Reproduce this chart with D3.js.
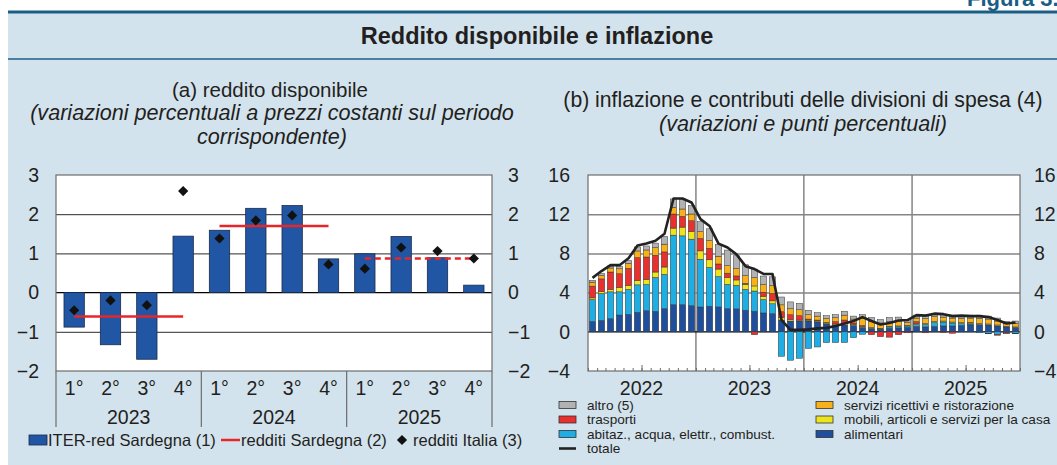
<!DOCTYPE html>
<html>
<head>
<meta charset="utf-8">
<script src="https://cdn.jsdelivr.net/npm/d3@7"></script>
<style>
  body { margin: 0; background: #fff; }
  svg { display: block; font-family: "Liberation Sans", Arial, Helvetica, sans-serif; }
</style>
</head>
<body>
<div id="chart"></div>
<script>
// ---- data: pannello (a) ----
var trimestri = ["1°", "2°", "3°", "4°"];
var anniA = ["2023", "2024", "2025"];
var iterRed = [-0.88, -1.33, -1.70, 1.44, 1.59, 2.15, 2.22, 0.86, 0.99, 1.43, 0.89, 0.19];
var redditiItalia = [-0.45, -0.20, -0.32, 2.59, 1.38, 1.84, 1.97, 0.72, 0.61, 1.15, 1.06, 0.87];
var redditiSardegna = [-0.61, 1.70, 0.87];
var sardegnaStima = [false, false, true];
var ticksA = [-2, -1, 0, 1, 2, 3];

// ---- data: pannello (b) ----
var anniB = ["2022", "2023", "2024", "2025"];
var mesi = d3.timeMonth.range(new Date(2022, 0, 1), new Date(2026, 0, 1));
var alimentari = [1.06, 1.16, 1.34, 1.71, 1.78, 1.99, 2.16, 2.09, 2.36, 2.77, 2.77, 2.67,
                  2.53, 2.61, 2.54, 2.37, 2.34, 2.20, 2.10, 1.92, 1.86, 1.20, 1.10, 1.10,
                  1.10, 1.00, 0.80, 0.70, 0.70, 0.65, 0.45, 0.35, 0.25, 0.35, 0.40, 0.45,
                  0.55, 0.50, 0.55, 0.60, 0.60, 0.65, 0.70, 0.75, 0.70, 0.60, 0.50, 0.45];
var abitazione = [2.23, 2.74, 2.74, 2.37, 2.54, 2.80, 2.67, 3.46, 3.50, 7.09, 7.02, 6.78,
                  4.87, 3.95, 3.10, 2.47, 2.40, 2.13, 2.06, 1.37, 1.00, -2.50, -2.90, -2.70,
                  -1.70, -1.55, -1.10, -1.10, -1.10, -0.60, -0.25, 0.00, 0.05, 0.15, 0.15, 0.15,
                  0.20, 0.25, 0.40, 0.40, 0.30, 0.20, 0.10, -0.10, -0.15, -0.25, -0.10, -0.15];
var mobili = [0.17, 0.20, 0.24, 0.45, 0.41, 0.45, 0.51, 0.55, 0.75, 0.72, 0.89, 0.79,
              0.86, 0.79, 0.76, 0.69, 0.55, 0.52, 0.52, 0.34, 0.30, 0.25, 0.15, 0.10,
              0.10, 0.10, 0.10, 0.10, 0.15, 0.10, 0.10, 0.10, 0.05, 0.05, 0.05, 0.05,
              0.10, 0.10, 0.10, 0.10, 0.10, 0.10, 0.10, 0.10, 0.10, 0.10, 0.05, 0.05];
var trasporti = [1.20, 1.30, 1.78, 1.40, 1.75, 2.33, 2.29, 1.71, 1.54, 1.44, 1.10, 1.10,
                 1.27, 1.17, 0.52, 0.45, 0.41, 0.10, -0.30, 0.41, 0.75, 0.60, 0.50, 0.45,
                 0.10, 0.10, 0.05, 0.25, 0.35, 0.15, 0.10, -0.30, -0.50, -0.55, -0.30, -0.10,
                 0.20, -0.10, 0.00, -0.05, -0.15, 0.00, 0.05, 0.00, -0.05, -0.10, -0.10, -0.05];
var servizi = [0.40, 0.35, 0.41, 0.50, 0.51, 0.68, 0.72, 0.79, 0.79, 0.68, 0.75, 0.68,
               0.68, 0.79, 0.79, 0.76, 0.76, 0.79, 0.86, 0.79, 0.80, 0.70, 0.60, 0.60,
               0.45, 0.40, 0.40, 0.40, 0.50, 0.40, 0.70, 0.60, 0.55, 0.50, 0.50, 0.30,
               0.35, 0.50, 0.50, 0.40, 0.40, 0.40, 0.45, 0.50, 0.50, 0.40, 0.30, 0.35];
var altro = [0.20, 0.20, 0.20, 0.27, 0.27, 0.41, 0.41, 0.45, 0.80, 0.86, 0.96, 0.86,
             1.03, 1.20, 1.20, 1.60, 1.30, 1.10, 0.86, 0.86, 0.90, 0.80, 0.70, 0.65,
             0.45, 0.35, 0.30, 0.30, 0.40, 0.30, 0.40, 0.40, 0.35, 0.40, 0.40, 0.30,
             0.30, 0.35, 0.35, 0.30, 0.30, 0.30, 0.30, 0.35, 0.30, 0.30, 0.20, 0.25];
var totale = [5.5, 6.2, 6.8, 6.8, 7.5, 8.8, 9.0, 9.3, 10.0, 13.6, 13.6, 13.2,
              11.5, 10.8, 9.0, 8.6, 7.9, 6.7, 6.4, 5.9, 5.9, 1.2, 0.2, 0.2,
              0.25, 0.35, 0.4, 0.6, 0.85, 1.1, 1.5, 1.1, 0.75, 0.9, 1.15, 1.2,
              1.7, 1.65, 1.85, 1.8, 1.6, 1.65, 1.6, 1.6, 1.5, 1.2, 0.85, 0.95];
var ticksB = [-4, 0, 4, 8, 12, 16];

var voci = [
  { key: "alimentari", label: "alimentari", color: "#1f4f9c" },
  { key: "abitazione", label: "abitaz., acqua, elettr., combust.", color: "#1eaee3" },
  { key: "mobili", label: "mobili, articoli e servizi per la casa", color: "#ece41c" },
  { key: "trasporti", label: "trasporti", color: "#e8302e" },
  { key: "servizi", label: "servizi ricettivi e ristorazione", color: "#f8b119" },
  { key: "altro", label: "altro (5)", color: "#b1b2b4" }
];
var serie = {
  alimentari: alimentari, abitazione: abitazione, mobili: mobili,
  trasporti: trasporti, servizi: servizi, altro: altro
};

var ink = "#231f20";
var W = 1057, H = 465;

var svg = d3.select("#chart").append("svg")
  .attr("width", W)
  .attr("height", H);

// background + header
svg.append("rect").attr("x", 8).attr("y", 12).attr("width", W - 8).attr("height", H - 12)
  .attr("fill", "#d3e3ee");
svg.append("line").attr("x1", 8).attr("x2", W).attr("y1", 12).attr("y2", 12)
  .attr("stroke", "#1b5e84").attr("stroke-width", 3);
svg.append("line").attr("x1", 8).attr("x2", W).attr("y1", 59).attr("y2", 59)
  .attr("stroke", "#1b5e84").attr("stroke-width", 1.5);
// figure number, cut at the right edge as in the source page
svg.append("text").attr("x", 967).attr("y", 6)
  .attr("font-size", "22px").attr("font-weight", "bold").attr("fill", "#1b5e84")
  .text("Figura 3.4");
svg.append("text").attr("x", 537).attr("y", 44).attr("text-anchor", "middle")
  .attr("font-size", "23.5px").attr("font-weight", "bold").attr("fill", ink)
  .text("Reddito disponibile e inflazione");

// subtitles
var subA = svg.append("text").attr("text-anchor", "middle").attr("fill", ink).attr("font-size", "20.5px");
subA.append("tspan").attr("x", 270).attr("y", 97).text("(a) reddito disponibile");
subA.append("tspan").attr("x", 272).attr("y", 120).attr("font-style", "italic").attr("font-size", "21.6px")
  .text("(variazioni percentuali a prezzi costanti sul periodo");
subA.append("tspan").attr("x", 272).attr("y", 144).attr("font-style", "italic").attr("font-size", "21.6px")
  .text("corrispondente)");

var subB = svg.append("text").attr("text-anchor", "middle").attr("fill", ink).attr("font-size", "21.2px");
subB.append("tspan").attr("x", 803).attr("y", 107).text("(b) inflazione e contributi delle divisioni di spesa (4)");
subB.append("tspan").attr("x", 803).attr("y", 131).attr("font-style", "italic").attr("font-size", "21.6px")
  .text("(variazioni e punti percentuali)");

// ================= pannello (a) =================
var keysA = [];
anniA.forEach(function(a) { trimestri.forEach(function(t) { keysA.push(a + " " + t); }); });

var xA = d3.scaleBand().domain(keysA).range([56, 492]).paddingInner(0.44).paddingOuter(0.22);
var yA = d3.scaleLinear().domain([-2, 3]).range([371, 175]);
var bwA = xA.bandwidth();
var gA = svg.append("g");

gA.append("rect").attr("x", 56).attr("y", yA(3)).attr("width", 436).attr("height", yA(-2) - yA(3))
  .attr("fill", "#fff");

var gridA = gA.append("g").attr("transform", "translate(56,0)")
  .call(d3.axisLeft(yA).tickValues([-1, 1, 2]).tickSize(-436).tickFormat(""));
gridA.select(".domain").remove();
gridA.selectAll("line").attr("stroke", "#2b2b2b").attr("stroke-width", 1);

gA.append("line").attr("x1", 56).attr("x2", 492).attr("y1", yA(0)).attr("y2", yA(0))
  .attr("stroke", "#000").attr("stroke-width", 1.2);

gA.selectAll("rect.bar").data(iterRed).enter().append("rect")
  .attr("class", "bar")
  .attr("x", function(d, i) { return xA(keysA[i]); })
  .attr("y", function(d) { return yA(Math.max(0, d)); })
  .attr("width", bwA)
  .attr("height", function(d) { return Math.abs(yA(d) - yA(0)); })
  .attr("fill", "#2156a5")
  .attr("stroke", "#1a2a4a")
  .attr("stroke-width", 0.8);

gA.selectAll("line.sard").data(redditiSardegna).enter().append("line")
  .attr("class", "sard")
  .attr("x1", function(d, i) { return xA(anniA[i] + " " + trimestri[0]) + bwA / 2; })
  .attr("x2", function(d, i) { return xA(anniA[i] + " " + trimestri[3]) + bwA / 2; })
  .attr("y1", function(d) { return yA(d); })
  .attr("y2", function(d) { return yA(d); })
  .attr("stroke", "#e8262a")
  .attr("stroke-width", 2.5)
  .attr("stroke-dasharray", function(d, i) { return sardegnaStima[i] ? "6,4" : null; });

var diamond = d3.symbol().type(d3.symbolSquare).size(52);
gA.selectAll("path.ita").data(redditiItalia).enter().append("path")
  .attr("class", "ita")
  .attr("d", diamond)
  .attr("transform", function(d, i) {
    return "translate(" + (xA(keysA[i]) + bwA / 2) + "," + yA(d) + ") rotate(45)";
  })
  .attr("fill", "#111");

gA.append("rect").attr("x", 56).attr("y", yA(3)).attr("width", 436).attr("height", yA(-2) - yA(3))
  .attr("fill", "none").attr("stroke", "#6d6d6d").attr("stroke-width", 1.2);

// y labels (both sides)
var yLabA = gA.append("g").attr("transform", "translate(56,0)")
  .call(d3.axisLeft(yA).tickValues(ticksA).tickSize(0).tickPadding(17).tickFormat(d3.format("d")));
var yLabA2 = gA.append("g").attr("transform", "translate(492,0)")
  .call(d3.axisRight(yA).tickValues(ticksA).tickSize(0).tickPadding(16).tickFormat(d3.format("d")));
[yLabA, yLabA2].forEach(function(g) {
  g.select(".domain").remove();
  g.selectAll("text").attr("font-size", "19.5px").attr("fill", ink)
    .attr("font-family", "'Liberation Sans', Arial, sans-serif");
});

// category axis: quarters + years with separators
var stepA = xA.step();
var x0A = xA.range()[0];
for (var i = 0; i <= anniA.length; i++) {
  gA.append("line")
    .attr("x1", x0A + i * 4 * stepA).attr("x2", x0A + i * 4 * stepA)
    .attr("y1", yA(-2)).attr("y2", 427)
    .attr("stroke", "#6d6d6d").attr("stroke-width", 1.2);
}
gA.selectAll("text.q").data(keysA).enter().append("text")
  .attr("class", "q")
  .attr("x", function(k) { return xA(k) + bwA / 2; })
  .attr("y", 395)
  .attr("text-anchor", "middle")
  .attr("font-size", "19.5px").attr("fill", ink)
  .text(function(k) { return k.split(" ")[1]; });
gA.selectAll("text.yr").data(anniA).enter().append("text")
  .attr("class", "yr")
  .attr("x", function(a) { return (xA(a + " " + trimestri[0]) + xA(a + " " + trimestri[3]) + bwA) / 2; })
  .attr("y", 424)
  .attr("text-anchor", "middle")
  .attr("font-size", "19.5px").attr("fill", ink)
  .text(function(a) { return a; });

// legend (a)
var legA = gA.append("g").attr("font-size", "16.5px").attr("fill", ink);
legA.append("rect").attr("x", 29).attr("y", 435).attr("width", 18).attr("height", 10)
  .attr("fill", "#2156a5").attr("stroke", "#1a2a4a").attr("stroke-width", 0.8);
legA.append("text").attr("x", 48).attr("y", 446).text("ITER-red Sardegna (1)");
legA.append("line").attr("x1", 221).attr("x2", 240).attr("y1", 440).attr("y2", 440)
  .attr("stroke", "#e8262a").attr("stroke-width", 2.5);
legA.append("text").attr("x", 241).attr("y", 446).text("redditi Sardegna (2)");
legA.append("path").attr("d", diamond).attr("transform", "translate(402,440) rotate(45)").attr("fill", "#111");
legA.append("text").attr("x", 413).attr("y", 446).text("redditi Italia (3)");

// ================= pannello (b) =================
var xB = d3.scaleBand().domain(mesi).range([588, 1020]).paddingInner(0.28).paddingOuter(0.14);
var tB = d3.scaleTime().domain([new Date(2022, 0, 1), new Date(2026, 0, 1)]).range([588, 1020]);
var yB = d3.scaleLinear().domain([-4, 16]).range([371, 175]);
var gB = svg.append("g");

gB.append("rect").attr("x", 588).attr("y", yB(16)).attr("width", 432).attr("height", yB(-4) - yB(16))
  .attr("fill", "#fff");

var gridB = gB.append("g").attr("transform", "translate(588,0)")
  .call(d3.axisLeft(yB).tickValues([4, 8, 12]).tickSize(-432).tickFormat(""));
gridB.select(".domain").remove();
gridB.selectAll("line").attr("stroke", "#858585").attr("stroke-width", 1.5);

var yearLines = anniB.slice(1).map(function(a) { return new Date(+a, 0, 1); });
gB.selectAll("line.yl").data(yearLines).enter().append("line")
  .attr("class", "yl")
  .attr("x1", function(d) { return tB(d); }).attr("x2", function(d) { return tB(d); })
  .attr("y1", yB(16)).attr("y2", yB(-4))
  .attr("stroke", "#858585").attr("stroke-width", 1.5);

gB.append("line").attr("x1", 588).attr("x2", 1020).attr("y1", yB(0)).attr("y2", yB(0))
  .attr("stroke", "#000").attr("stroke-width", 1.2);

var rowsB = mesi.map(function(m, i) {
  var r = { mese: m };
  voci.forEach(function(v) { r[v.key] = serie[v.key][i]; });
  return r;
});
var stackB = d3.stack().keys(voci.map(function(v) { return v.key; }))
  .offset(d3.stackOffsetDiverging)(rowsB);
var colorB = {};
voci.forEach(function(v) { colorB[v.key] = v.color; });

gB.selectAll("g.layer").data(stackB).enter().append("g")
  .attr("class", "layer")
  .attr("fill", function(s) { return colorB[s.key]; })
  .selectAll("rect").data(function(s) { return s; }).enter().append("rect")
  .attr("x", function(d) { return xB(d.data.mese); })
  .attr("y", function(d) { return yB(Math.max(d[0], d[1])); })
  .attr("width", xB.bandwidth())
  .attr("height", function(d) { return Math.abs(yB(d[0]) - yB(d[1])); })
  .attr("stroke", "#3a3a3a")
  .attr("stroke-width", 0.5);

var lineB = d3.line()
  .x(function(d, i) { return xB(mesi[i]) + xB.bandwidth() / 2; })
  .y(function(d) { return yB(d); })
  .curve(d3.curveLinear);
gB.append("path").datum(totale)
  .attr("d", lineB)
  .attr("fill", "none")
  .attr("stroke", "#222")
  .attr("stroke-width", 2.6)
  .attr("stroke-linejoin", "round");

gB.append("rect").attr("x", 588).attr("y", yB(16)).attr("width", 432).attr("height", yB(-4) - yB(16))
  .attr("fill", "none").attr("stroke", "#6d6d6d").attr("stroke-width", 1.2);

// month ticks, taller at mid-year
var mt = gB.append("g").attr("transform", "translate(0," + yB(-4) + ")")
  .call(d3.axisBottom(tB).ticks(d3.timeMonth.every(1)).tickSize(-3).tickFormat(""));
mt.select(".domain").remove();
mt.selectAll("line").attr("stroke", "#6d6d6d");
var midYear = anniB.map(function(a) { return new Date(+a, 6, 1); });
var ht = gB.append("g").attr("transform", "translate(0," + yB(-4) + ")")
  .call(d3.axisBottom(tB).tickValues(midYear).tickSize(-6).tickFormat(""));
ht.select(".domain").remove();
ht.selectAll("line").attr("stroke", "#6d6d6d");

gB.selectAll("text.yrB").data(midYear).enter().append("text")
  .attr("class", "yrB")
  .attr("x", function(d) { return tB(d); })
  .attr("y", 395)
  .attr("text-anchor", "middle")
  .attr("font-size", "19.5px").attr("fill", ink)
  .text(d3.timeFormat("%Y"));

var yLabB = gB.append("g").attr("transform", "translate(588,0)")
  .call(d3.axisLeft(yB).tickValues(ticksB).tickSize(0).tickPadding(18).tickFormat(d3.format("d")));
var yLabB2 = gB.append("g").attr("transform", "translate(1020,0)")
  .call(d3.axisRight(yB).tickValues(ticksB).tickSize(0).tickPadding(14).tickFormat(d3.format("d")));
[yLabB, yLabB2].forEach(function(g) {
  g.select(".domain").remove();
  g.selectAll("text").attr("font-size", "19.5px").attr("fill", ink)
    .attr("font-family", "'Liberation Sans', Arial, sans-serif");
});

// legend (b)
var legItems = [
  { key: "altro", col: 0, row: 0 },
  { key: "trasporti", col: 0, row: 1 },
  { key: "abitazione", col: 0, row: 2 },
  { key: "servizi", col: 1, row: 0 },
  { key: "mobili", col: 1, row: 1 },
  { key: "alimentari", col: 1, row: 2 }
];
var labelB = {};
voci.forEach(function(v) { labelB[v.key] = v.label; });
var colX = [559, 816], rowY = [405, 419.5, 434, 448.5];
var legB = gB.append("g").attr("font-size", "13.6px").attr("fill", ink);
legItems.forEach(function(it) {
  legB.append("rect").attr("x", colX[it.col]).attr("y", rowY[it.row] - 3.5)
    .attr("width", 17).attr("height", 7)
    .attr("fill", colorB[it.key]).attr("stroke", "#333").attr("stroke-width", 0.8);
  legB.append("text").attr("x", colX[it.col] + 28).attr("y", rowY[it.row]).attr("dy", "0.35em")
    .text(labelB[it.key]);
});
legB.append("line").attr("x1", colX[0]).attr("x2", colX[0] + 17).attr("y1", rowY[3]).attr("y2", rowY[3])
  .attr("stroke", "#222").attr("stroke-width", 2.6);
legB.append("text").attr("x", colX[0] + 28).attr("y", rowY[3]).attr("dy", "0.35em").text("totale");
</script>
</body>
</html>
